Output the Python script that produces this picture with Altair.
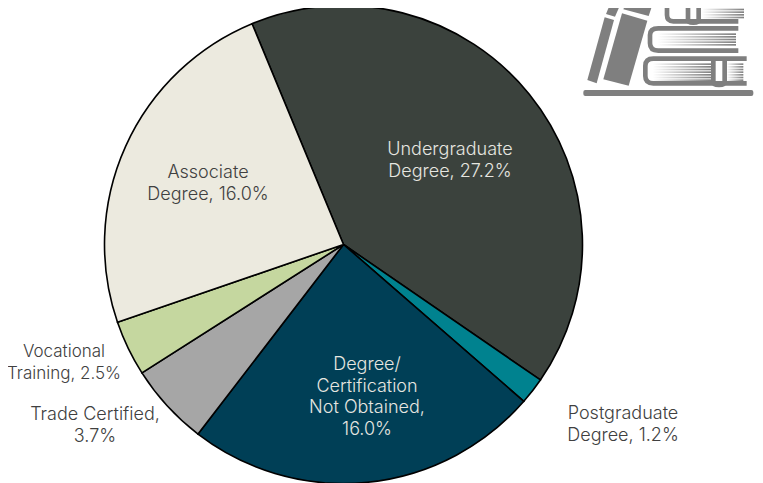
import math
import urllib.parse
import altair as alt
import pandas as pd

# ---- data
categories = ["Undergraduate Degree", "Postgraduate Degree", "Degree/Certification Not Obtained",
              "Trade Certified", "Vocational Training", "Associate Degree"]
values = [27.2, 1.2, 16.0, 3.7, 2.5, 16.0]
colors = ["#3B423D", "#00828F", "#003F56", "#A6A6A6", "#C5D79F", "#ECEADF"]
labels = ["Undergraduate\nDegree, 27.2%", "Postgraduate\nDegree, 1.2%",
          "Degree/\nCertification\nNot Obtained,\n16.0%", "Trade Certified,\n3.7%",
          "Vocational\nTraining, 2.5%", "Associate\nDegree, 16.0%"]
label_colors = ["#E6E6E0", "#404040", "#E6E6E0", "#404040", "#404040", "#404040"]

# ---- layout
W, H = 747, 475
CX, CY, R = 335.5, 236.5, 239
START = math.radians(-22.5)
LABEL_XY = [(442, 131), (615, 395), (359, 346), (87, 396), (56, 333), (200, 154)]
LABEL_SIZE = [18, 18, 18, 18, 17, 18]
FONT = "Inter"

df = pd.DataFrame({"cat": categories, "val": values, "idx": range(len(values))})

pie = alt.Chart(df).mark_arc(stroke="black", strokeWidth=1.6, outerRadius=R).encode(
    theta=alt.Theta("val:Q", stack=True, scale=alt.Scale(range=[START, START + 2 * math.pi])),
    order=alt.Order("idx:Q"),
    color=alt.Color("cat:N", scale=alt.Scale(domain=categories, range=colors), legend=None),
    x=alt.value(CX),
    y=alt.value(CY),
)

layers = [pie]
for lab, col, (lx, ly), fs in zip(labels, label_colors, LABEL_XY, LABEL_SIZE):
    layers.append(
        alt.Chart(pd.DataFrame({"t": [lab]})).mark_text(
            lineBreak="\n", font=FONT, fontSize=fs, fontWeight=300, lineHeight=21.5,
            align="center", baseline="line-top", color=col,
        ).encode(text="t:N", x=alt.value(lx), y=alt.value(ly))
    )

# decorative books icon (viewBox in 1/3 px)
G = "#7F7F7F"
def fade(x0, x1, y0, y1, step=8):
    out = ""
    y = y0
    while y < y1:
        out += f'<rect x="{x0}" y="{y}" width="{x1-x0}" height="5" fill="url(#f)"/>'
        y += step
    return out

svg = f'''<svg xmlns="http://www.w3.org/2000/svg" width="193" height="110" viewBox="0 0 579 330">
<defs><linearGradient id="f"><stop offset="0" stop-color="{G}" stop-opacity="0"/><stop offset="1" stop-color="{G}"/></linearGradient></defs>
<rect x="40" y="270" width="510" height="18" rx="6" fill="{G}"/>
<g fill="none" stroke="{G}" stroke-width="14">
<path d="M527 6H310Q291 6 291 25V45Q291 64 310 64H505"/>
<path d="M505 85H265Q240 85 240 105V130Q240 152 265 152H505"/>
<path d="M530 176H250Q226 176 226 198V228Q226 250 250 250H530"/>
<path d="M354 6V60Q354 68 370 68Q386 68 386 60V6"/>
<path d="M430 176V245Q430 255 447 255Q464 255 464 245V176"/>
</g>
{fade(396, 522, 18, 58, 8)}{fade(262, 498, 100, 140, 8)}{fade(248, 425, 190, 240, 8)}{fade(470, 520, 190, 240, 8)}
<g fill="{G}">
<path d="M122 8L150 16L135 50L108 42Z"/><path d="M104 52L132 60L80 250L52 240Z"/>
<path d="M172 0H252L236 48L160 28Z"/><path d="M156 40L232 62L176 257L100 238Z"/>
</g></svg>'''
icon_url = "data:image/svg+xml," + urllib.parse.quote(svg)
icon = alt.Chart(pd.DataFrame({"u": [icon_url]})).mark_image(
    width=193, height=110, align="left", baseline="top"
).encode(url="u:N", x=alt.value(562), y=alt.value(-8))
layers.append(icon)

chart = alt.layer(*layers).properties(
    width=W, height=H, padding=0, autosize=alt.AutoSizeParams(type="none")
).configure_view(stroke=None)

chart.save("out.html", embed_options={"renderer": "svg", "actions": False})
